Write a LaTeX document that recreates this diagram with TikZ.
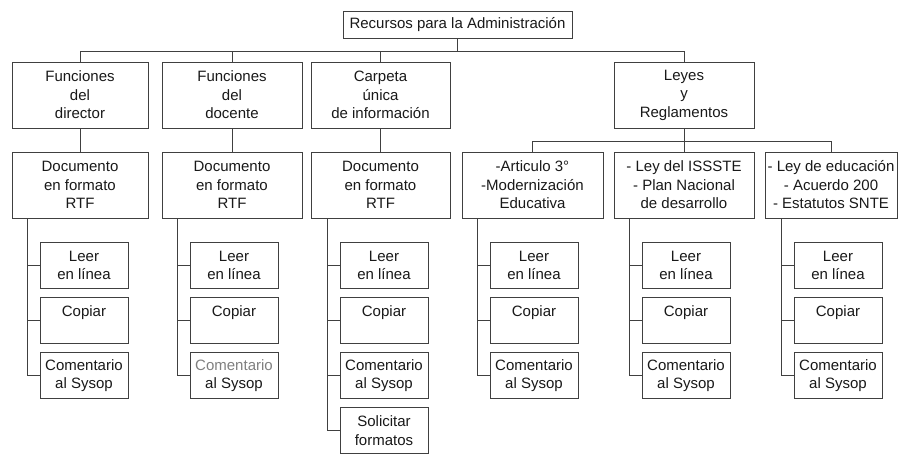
\documentclass[tikz,border=0pt]{standalone}
\usepackage{fontspec}
\setmainfont{Liberation Sans}
\usetikzlibrary{positioning}

\begin{document}
\begin{tikzpicture}[
  x=1pt, y=-1pt,
  nd/.style={draw=black!75, line width=1pt, rectangle, fill=white, align=center,
             text=black!90, inner sep=1pt, font=\fontsize{15}{18.5}\selectfont},
  hd/.style={nd, minimum width=229pt, minimum height=27pt},
  mn/.style={nd, minimum height=66pt},
  lf/.style={nd, minimum width=88pt, minimum height=46pt},
  ln/.style={draw=black!75, line width=1pt}
]
\useasboundingbox (0,0) rectangle (902,453);

% ─── Root ───
\node[hd] (root) at (457.5, 24.5) {Recursos para la Administración};
\coordinate (bus) at (0, 51);

% ─── First level ───
\node[mn, minimum width=136pt] (dir)   at (80.0, 95) {Funciones\\del\\director};
\node[mn, minimum width=140pt] (doc)   at (232.0, 95) {Funciones\\del\\docente};
\node[mn, minimum width=139pt] (carp)  at (380.5, 95) {Carpeta\\única\\de información};
\node[mn, minimum width=140pt] (leyes) at (684.0, 95) {Leyes\\y\\Reglamentos};

% ─── Second level ───
\node[mn, minimum width=136pt] (rtfA) at (80.0, 185) {Documento\\en formato\\RTF};
\node[mn, minimum width=140pt] (rtfB) at (232.0, 185) {Documento\\en formato\\RTF};
\node[mn, minimum width=139pt] (rtfC) at (380.5, 185) {Documento\\en formato\\RTF};
\node[mn, minimum width=141pt] (art)  at (532.5, 185) {-Articulo 3°\\-Modernización\\Educativa};
\node[mn, minimum width=140pt] (isss) at (684.0, 185) {- Ley del ISSSTE\\- Plan Nacional\\de desarrollo};
\node[mn, minimum width=132pt] (educ) at (831.0, 185) {- Ley de educación\\- Acuerdo 200\\- Estatutos SNTE};
\coordinate (busL) at (0, 141);

% ─── Leaves ───
\node[lf] (leerA) at (84, 265.5) {Leer\\en línea};
\node[lf] (copA)  at (84, 320.5) {Copiar\\\mbox{}};
\node[lf] (comA)  at (84, 375.5) {Comentario\\al Sysop};

\node[lf] (leerB) at (234, 265.5) {Leer\\en línea};
\node[lf] (copB)  at (234, 320.5) {Copiar\\\mbox{}};
\node[lf] (comB)  at (234, 375.5) {{\color{black!50}Comentario}\\al Sysop};

\node[lf] (leerC) at (384, 265.5) {Leer\\en línea};
\node[lf] (copC)  at (384, 320.5) {Copiar\\\mbox{}};
\node[lf] (comC)  at (384, 375.5) {Comentario\\al Sysop};
\node[lf] (solC)  at (384, 430.5) {Solicitar\\formatos};

\node[lf] (leerD) at (534, 265.5) {Leer\\en línea};
\node[lf] (copD)  at (534, 320.5) {Copiar\\\mbox{}};
\node[lf] (comD)  at (534, 375.5) {Comentario\\al Sysop};

\node[lf] (leerE) at (686, 265.5) {Leer\\en línea};
\node[lf] (copE)  at (686, 320.5) {Copiar\\\mbox{}};
\node[lf] (comE)  at (686, 375.5) {Comentario\\al Sysop};

\node[lf] (leerF) at (838, 265.5) {Leer\\en línea};
\node[lf] (copF)  at (838, 320.5) {Copiar\\\mbox{}};
\node[lf] (comF)  at (838, 375.5) {Comentario\\al Sysop};

% ─── Root to first level ───
\draw[ln] (root.south) -- (root.south |- bus) -| (dir.north);
\draw[ln] (root.south |- bus) -| (doc.north);
\draw[ln] (root.south |- bus) -| (carp.north);
\draw[ln] (root.south |- bus) -| (leyes.north);

% ─── First to second level ───
\draw[ln] (dir.south)  -- (rtfA.north);
\draw[ln] (doc.south)  -- (rtfB.north);
\draw[ln] (carp.south) -- (rtfC.north);
\draw[ln] (leyes.south) -- (leyes.south |- busL) -| (art.north);
\draw[ln] (leyes.south |- busL) -- (isss.north);
\draw[ln] (leyes.south |- busL) -| (educ.north);

% ─── Second level to leaves ───
\draw[ln] ([xshift=16pt]rtfA.south west) |- (comA.west);
\draw[ln] ([xshift=16pt]rtfA.south west |- leerA.west) -- (leerA.west);
\draw[ln] ([xshift=16pt]rtfA.south west |- copA.west) -- (copA.west);

\draw[ln] ([xshift=16pt]rtfB.south west) |- (comB.west);
\draw[ln] ([xshift=16pt]rtfB.south west |- leerB.west) -- (leerB.west);
\draw[ln] ([xshift=16pt]rtfB.south west |- copB.west) -- (copB.west);

\draw[ln] ([xshift=17pt]rtfC.south west) |- (solC.west);
\draw[ln] ([xshift=17pt]rtfC.south west |- leerC.west) -- (leerC.west);
\draw[ln] ([xshift=17pt]rtfC.south west |- copC.west) -- (copC.west);
\draw[ln] ([xshift=17pt]rtfC.south west |- comC.west) -- (comC.west);

\draw[ln] ([xshift=16pt]art.south west) |- (comD.west);
\draw[ln] ([xshift=16pt]art.south west |- leerD.west) -- (leerD.west);
\draw[ln] ([xshift=16pt]art.south west |- copD.west) -- (copD.west);

\draw[ln] ([xshift=16pt]isss.south west) |- (comE.west);
\draw[ln] ([xshift=16pt]isss.south west |- leerE.west) -- (leerE.west);
\draw[ln] ([xshift=16pt]isss.south west |- copE.west) -- (copE.west);

\draw[ln] ([xshift=17pt]educ.south west) |- (comF.west);
\draw[ln] ([xshift=17pt]educ.south west |- leerF.west) -- (leerF.west);
\draw[ln] ([xshift=17pt]educ.south west |- copF.west) -- (copF.west);

\end{tikzpicture}
\end{document}
